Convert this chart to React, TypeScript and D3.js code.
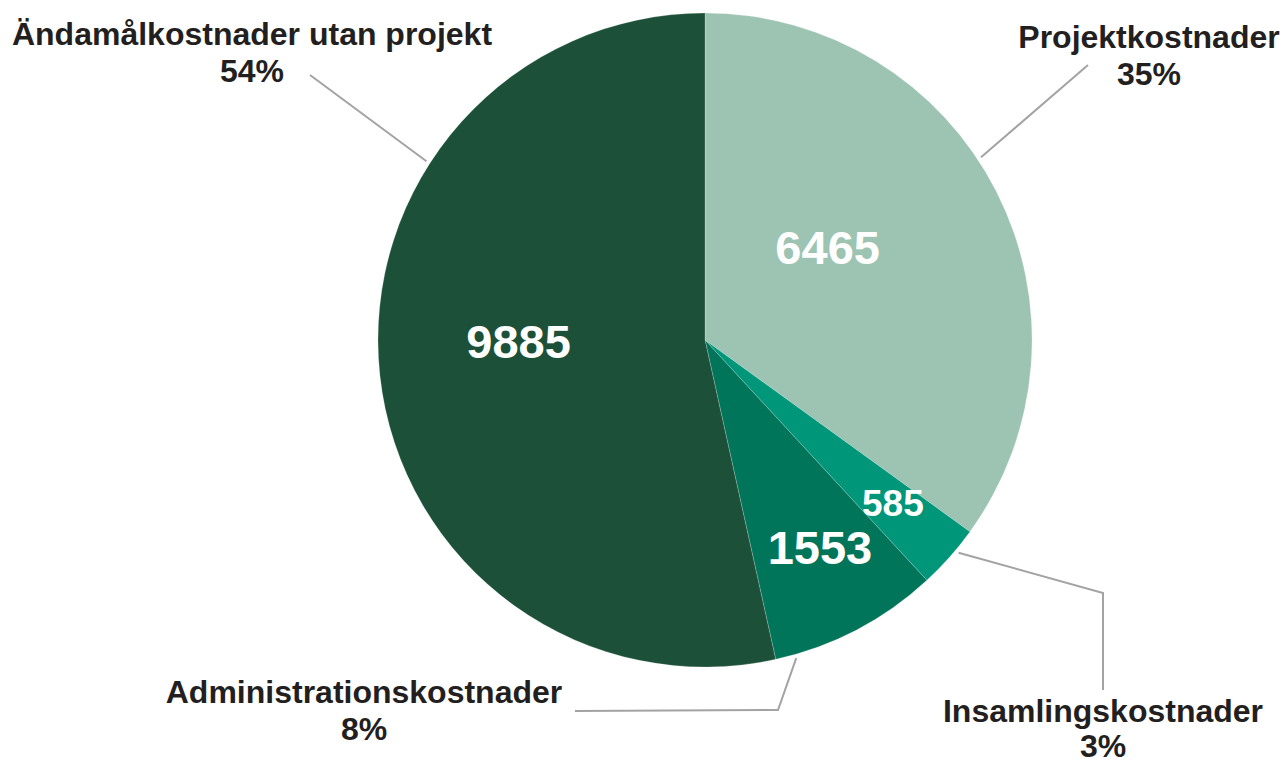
import React from "react";
import * as d3 from "d3";

// data
const categories = [
  "Projektkostnader",
  "Insamlingskostnader",
  "Administrationskostnader",
  "Ändamålkostnader utan projekt",
];
const values = [6465, 585, 1553, 9885];
const percentLabels = ["35%", "3%", "8%", "54%"];
const colors = ["#9dc4b2", "#00967a", "#00755a", "#1c5039"];

// layout for in-slice numbers: radius factor + angle shift (deg)
const valueLabelLayout = [
  { rf: 0.47, shift: -10, size: 47 },
  { rf: 0.76, shift: -0.7, size: 37 },
  { rf: 0.725, shift: -1.4, size: 47 },
  { rf: 0.57, shift: 6, size: 47 },
];

// outside labels: anchor angle on the pie, then polyline + text block
const outsideLayout = [
  { angle: 56.5, path: [[1088, 65]], tx: 1149, ty: 48, lh: 37 },
  { angle: 130, path: [[1103, 593], [1103, 690]], tx: 1103, ty: 722, lh: 35 },
  { angle: 164, path: [[778, 710], [575, 711]], tx: 364, ty: 703, lh: 37 },
  { angle: 302.7, path: [[310, 75]], tx: 252, ty: 45, lh: 37 },
];

const W = 1285;
const H = 765;
const cx = 705;
const cy = 340;
const R = 327;

export default function App() {
  const pie = d3
    .pie<number>()
    .sort(null)
    .value((d) => d);
  const arcs = pie(values);
  const arc = d3.arc<d3.PieArcDatum<number>>().innerRadius(0).outerRadius(R);

  const polar = (deg: number, r: number): [number, number] => {
    const a = (deg * Math.PI) / 180;
    return [cx + r * Math.sin(a), cy - r * Math.cos(a)];
  };

  const font = "'Liberation Sans', Arial, Helvetica, sans-serif";

  return (
    <div style={{ position: "fixed", left: 0, top: 0, width: W, height: H, background: "#fff" }}>
      <svg width={W} height={H} style={{ display: "block" }}>
        <g transform={`translate(${cx},${cy})`}>
          {arcs.map((a, i) => (
            <path
              key={categories[i]}
              d={arc(a) || ""}
              fill={colors[i]}
              stroke="#ffffff"
              strokeOpacity={0.25}
              strokeWidth={0.8}
            />
          ))}
        </g>

        {arcs.map((a, i) => {
          const mid = (((a.startAngle + a.endAngle) / 2) * 180) / Math.PI;
          const L = valueLabelLayout[i];
          const [x, y] = polar(mid + L.shift, R * L.rf);
          return (
            <text
              key={"v" + i}
              x={x}
              y={y}
              dy="0.36em"
              textAnchor="middle"
              fill="#ffffff"
              fontFamily={font}
              fontWeight={700}
              fontSize={L.size}
            >
              {values[i]}
            </text>
          );
        })}

        {outsideLayout.map((o, i) => {
          const start = polar(o.angle, R + 4);
          const pts = [start, ...o.path];
          return (
            <polyline
              key={"l" + i}
              points={pts.map((p) => p.join(",")).join(" ")}
              fill="none"
              stroke="#a3a3a3"
              strokeWidth={2}
            />
          );
        })}

        {outsideLayout.map((o, i) => (
          <text
            key={"t" + i}
            x={o.tx}
            y={o.ty}
            textAnchor="middle"
            fill="#231f20"
            fontFamily={font}
            fontWeight={700}
            fontSize={32}
          >
            <tspan x={o.tx}>{categories[i]}</tspan>
            <tspan x={o.tx} dy={o.lh}>
              {percentLabels[i]}
            </tspan>
          </text>
        ))}
      </svg>
    </div>
  );
}
